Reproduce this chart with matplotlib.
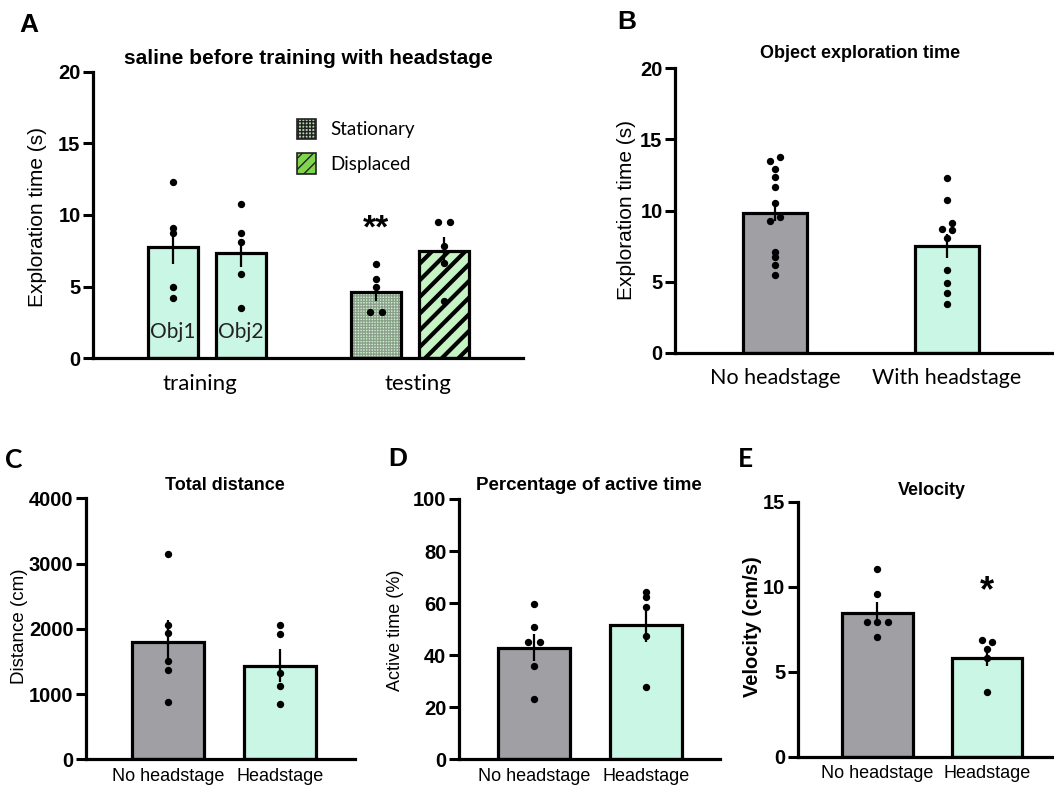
import numpy as np
import matplotlib
matplotlib.use("Agg")
import matplotlib.pyplot as plt
from matplotlib.patches import Patch

plt.rcParams['font.family'] = ['Liberation Sans', 'DejaVu Sans']

W, H = 1054, 792

# ---- A: saline before training with headstage
obj1 = [12.29, 9.11, 8.72, 4.94, 4.22]
obj2 = [10.75, 8.76, 8.09, 5.85, 3.48]
stationary = [6.57, 5.50, 4.94, 3.24, 3.24]
displaced = [9.51, 9.51, 7.83, 6.64, 4.00]
mean_a = [7.76, 7.34, 4.60, 7.48]
sem_a = [1.2, 1.0, 0.6, 1.0]

# ---- B: object exploration time
b_nohead = [13.78, 13.50, 12.91, 12.37, 11.67, 10.50, 9.57, 9.29, 7.11, 6.76, 6.18, 5.47]
b_head = [12.26, 10.74, 9.10, 8.70, 8.63, 8.05, 5.82, 4.94, 4.19, 3.44]
mean_b = [9.85, 7.49]
sem_b = [0.6, 0.85]

# ---- C: total distance
c_nohead = [3142, 2058, 1931, 1506, 1369, 874]
c_head = [2058, 1920, 1318, 1123, 843]
mean_c = [1802, 1435]
sem_c = [330, 250]

# ---- D: percentage of active time
d_nohead = [59.5, 50.9, 45.0, 45.0, 36.0, 23.2]
d_head = [64.2, 62.3, 58.7, 47.4, 27.7]
mean_d = [42.9, 51.65]
sem_d = [5.1, 6.5]

# ---- E: velocity
e_nohead = [11.04, 9.55, 7.91, 7.91, 7.91, 7.02]
e_head = [6.86, 6.76, 6.32, 5.79, 3.79]
mean_e = [8.47, 5.82]
sem_e = [0.65, 0.5]

# small horizontal offsets so overlapping dots stay visible
jit_stat = [0, 0, 0, -0.09, 0.09]
jit_disp = [-0.09, 0.09, 0, 0, 0]
jit_b0 = [0.03, -0.03, 0, 0, 0, 0, 0.03, -0.03, 0, 0, 0, 0]
jit_b1 = [0, 0, 0.03, -0.03, 0.03, 0, 0, 0, 0, 0]
jit_d0 = [0, 0, -0.05, 0.05, 0, 0]
jit_e0 = [0, 0, -0.1, 0, 0.1, 0]
jit_e1 = [-0.05, 0.05, 0, 0, 0]

GRAY = '#a09fa4'
MINT = '#c9f6e5'
LGREEN = '#c6f3c4'
CALIBRI = ['Lato', 'DejaVu Sans']

fig = plt.figure(figsize=(W / 100, H / 100), dpi=100)


def add_ax(x0, x1, y0, y1):
    # pixel box -> figure fraction
    return fig.add_axes([x0 / W, 1 - y1 / H, (x1 - x0) / W, (y1 - y0) / H])


def ftext(x, y, s, **kw):
    kw.setdefault('ha', 'center')
    kw.setdefault('va', 'center')
    return fig.text(x / W, 1 - y / H, s, **kw)


def style(ax, ylim, yticks, tsize=14.5):
    for sp in ['top', 'right']:
        ax.spines[sp].set_visible(False)
    for sp in ['left', 'bottom']:
        ax.spines[sp].set_linewidth(2.3)
    ax.set_ylim(*ylim)
    ax.set_yticks(yticks)
    ax.tick_params(axis='y', length=7, width=2.2, pad=2)
    ax.tick_params(axis='x', length=0)
    for lab in ax.get_yticklabels():
        lab.set_fontweight('bold')
        lab.set_fontsize(tsize)


def dots(ax, x, vals, jit, size=28):
    xs = [x + j for j in jit]
    ax.scatter(xs, vals, s=size, color='black', zorder=5, linewidths=0)


def errbar(ax, x, m, s):
    ax.errorbar(x, m, yerr=s, fmt='none', ecolor='black', elinewidth=1.6,
                capsize=0, zorder=4)


# ================= A =================
axA = add_ax(93, 523, 72, 358)
style(axA, (0, 20), [0, 5, 10, 15, 20], tsize=14.5)
axA.set_xlim(-1.18, 5.17)
wA = 0.74
axA.bar([0, 1], mean_a[:2], width=wA, color=MINT, edgecolor='black', linewidth=2.3, zorder=2)
with plt.rc_context({'hatch.linewidth': 0.9}):
    axA.bar(3, mean_a[2], width=wA, color=LGREEN, edgecolor='#8e9e8e', linewidth=0,
            hatch='++++++', zorder=2)
with plt.rc_context({'hatch.linewidth': 3.0}):
    axA.bar(4, mean_a[3], width=wA, color=LGREEN, edgecolor='black', linewidth=0,
            hatch='//', zorder=2)
axA.bar([3, 4], mean_a[2:], width=wA, fill=False, edgecolor='black', linewidth=2.3, zorder=3)
axA.set_xticks([])
for x, m, s in zip([0, 1, 3, 4], mean_a, sem_a):
    errbar(axA, x, m, s)
dots(axA, 0, obj1, [0] * 5)
dots(axA, 1, obj2, [0] * 5)
dots(axA, 3, stationary, jit_stat)
dots(axA, 4, displaced, jit_disp)
for x, s in zip([0, 1], ['Obj1', 'Obj2']):
    axA.text(x, 1.8, s, ha='center', va='center', fontsize=15, family=CALIBRI, color='#222222', zorder=6)
axA.text(3, 9.0, '**', ha='center', va='center', fontsize=24, fontweight='bold', zorder=6)

with plt.rc_context({'hatch.linewidth': 1.1}):
    h_stat = Patch(facecolor='#b4d0ac', edgecolor='#66766a', hatch='+++++', linewidth=0)
with plt.rc_context({'hatch.linewidth': 2.5}):
    h_disp = Patch(facecolor='#7fd54e', edgecolor='black', hatch='///', linewidth=0)
leg = axA.legend([h_stat, h_disp], ['Stationary', 'Displaced'], frameon=False,
                 loc='upper left', bbox_to_anchor=(0.435, 0.895), handlelength=1.0,
                 handleheight=1.3, handletextpad=0.8, labelspacing=0.75,
                 prop={'family': CALIBRI, 'size': 13.5})
for p in leg.get_patches():
    p.set_edgecolor('#222222')
    p.set_linewidth(1.2)

ftext(200, 384, 'training', fontsize=16, family=CALIBRI)
ftext(418, 384, 'testing', fontsize=16, family=CALIBRI)
ftext(308, 58, 'saline before training with headstage', fontsize=15, fontweight='bold')
ftext(38, 217, 'Exploration time (s)', fontsize=15, rotation=90)
ftext(29, 25, 'A', fontsize=19, fontweight='bold')

# ================= B =================
axB = add_ax(675, 1054, 68, 353)
style(axB, (0, 20), [0, 5, 10, 15, 20], tsize=14.5)
axB.set_xlim(-0.581, 1.622)
axB.bar([0, 1], mean_b, width=0.372, color=[GRAY, MINT], edgecolor='black', linewidth=2.3, zorder=2)
axB.set_xticks([0, 1], ['No headstage', 'With headstage'], fontsize=15.5, family=CALIBRI)
axB.tick_params(axis='x', pad=11)
for x, m, s in zip([0, 1], mean_b, sem_b):
    errbar(axB, x, m, s)
dots(axB, 0, b_nohead, jit_b0)
dots(axB, 1, b_head, jit_b1)
ftext(860, 53, 'Object exploration time', fontsize=13, fontweight='bold')
ftext(627, 210, 'Exploration time (s)', fontsize=15, rotation=90)
ftext(627, 22, 'B', fontsize=19, fontweight='bold')

# ================= C, D, E =================
small = [
    (add_ax(86, 355, 498.3, 759.3), (-0.732, 1.67), (0, 4000), [0, 1000, 2000, 3000, 4000],
     c_nohead, c_head, [0] * 6, [0] * 5, mean_c, sem_c),
    (add_ax(459, 720, 499, 759.3), (-0.67, 1.66), (0, 100), [0, 20, 40, 60, 80, 100],
     d_nohead, d_head, jit_d0, [0] * 5, mean_d, sem_d),
    (add_ax(798, 1054, 501.7, 756.7), (-0.726, 1.612), (0, 15), [0, 5, 10, 15],
     e_nohead, e_head, jit_e0, jit_e1, mean_e, sem_e),
]
for ax, xl, yl, yt, g0, g1, j0, j1, m, s in small:
    style(ax, yl, yt, tsize=14.5)
    ax.set_xlim(*xl)
    ax.bar([0, 1], m, width=0.645, color=[GRAY, MINT], edgecolor='black', linewidth=2.3, zorder=2)
    ax.set_xticks([0, 1], ['No headstage', 'Headstage'], fontsize=13)
    ax.tick_params(axis='x', pad=6)
    errbar(ax, 0, m[0], s[0])
    errbar(ax, 1, m[1], s[1])
    dots(ax, 0, g0, j0)
    dots(ax, 1, g1, j1)

axE = small[2][0]
axE.text(1, 9.7, '*', ha='center', va='center', fontsize=26, fontweight='bold', zorder=6)

ftext(225, 485, 'Total distance', fontsize=13, fontweight='bold')
ftext(589, 485, 'Percentage of active time', fontsize=13.5, fontweight='bold')
ftext(932, 490, 'Velocity', fontsize=13, fontweight='bold')
ftext(20, 626, 'Distance (cm)', fontsize=13.5, rotation=90)
ftext(395, 630, 'Active time (%)', fontsize=13, rotation=90)
ftext(752, 627, 'Velocity (cm/s)', fontsize=14.5, fontweight='bold', rotation=90)
ftext(14, 460, 'C', fontsize=19, fontweight='bold', family=CALIBRI)
ftext(398, 459, 'D', fontsize=19, fontweight='bold')
ftext(745, 459, 'E', fontsize=19, fontweight='bold', family=CALIBRI)

fig.savefig('out.png', dpi=100)
